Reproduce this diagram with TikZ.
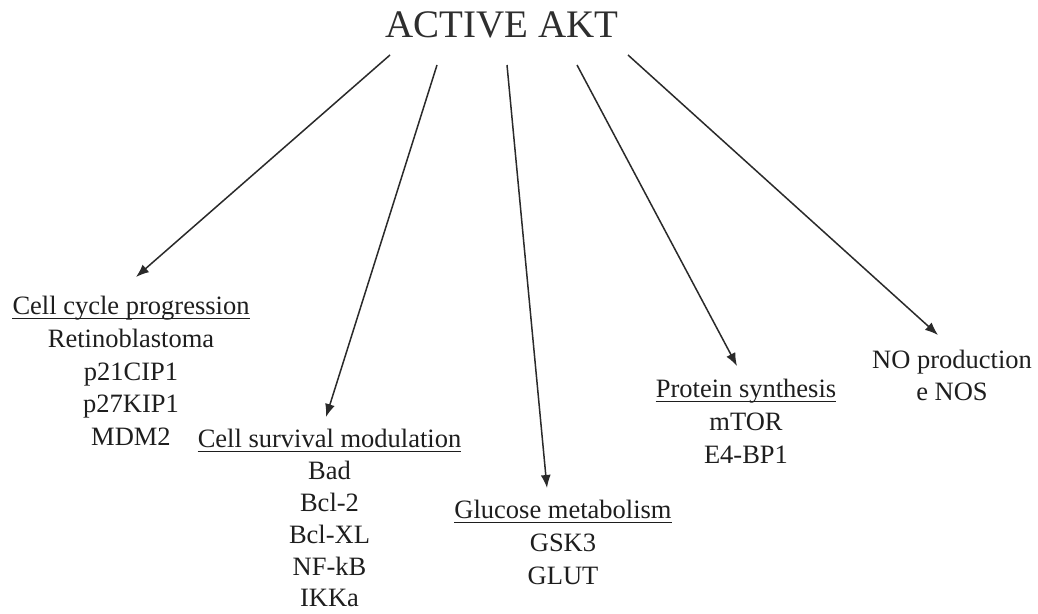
\documentclass[tikz,border=0pt]{standalone}
\usepackage{fontspec}
\setmainfont{Liberation Serif}
\usetikzlibrary{arrows.meta}
\definecolor{ink}{HTML}{1E1E1E}
\definecolor{lineink}{HTML}{2A2A2A}
\definecolor{titleink}{HTML}{2E2E2E}
\begin{document}
\begin{tikzpicture}[x=1pt,y=-1pt,
  txt/.style={anchor=base, inner sep=0pt, font=\fontsize{26.5}{32}\selectfont, text=ink},
  titlestyle/.style={anchor=base, inner sep=0pt, font=\fontsize{39}{46}\selectfont, text=titleink},
  arr/.style={draw=lineink, line width=1.5pt, -{Latex[length=13pt,width=10pt]}},
  uline/.style={draw=ink, line width=1.3pt}]
\useasboundingbox[fill=white] (0,0) rectangle (1038,613);

% title
\node[titlestyle] (akt) at (502,37) {ACTIVE AKT};

% block 1
\node[txt] (h1) at (131,314) {Cell cycle progression};
\node[txt] (b1a) at (131,347) {Retinoblastoma};
\node[txt] (b1b) at (131,380) {p21CIP1};
\node[txt] (b1c) at (131,412) {p27KIP1};
\node[txt] (b1d) at (131,445) {MDM2};

% block 2
\node[txt] (h2) at (329.5,447) {Cell survival modulation};
\node[txt] (b2a) at (329.5,479) {Bad};
\node[txt] (b2b) at (329.5,511) {Bcl-2};
\node[txt] (b2c) at (329.5,543) {Bcl-XL};
\node[txt] (b2d) at (329.5,575) {NF-kB};
\node[txt] (b2e) at (329.5,606) {IKKa};

% block 3
\node[txt] (h3) at (563,518) {Glucose metabolism};
\node[txt] (b3a) at (563,551) {GSK3};
\node[txt] (b3b) at (563,584) {GLUT};

% block 4
\node[txt] (h4) at (746,397) {Protein synthesis};
\node[txt] (b4a) at (746,430) {mTOR};
\node[txt] (b4b) at (746,463) {E4-BP1};

% block 5
\node[txt] (h5) at (952,368) {NO production};
\node[txt] (b5a) at (952,400) {e NOS};

% underlines
\foreach \h in {h1,h2,h3,h4}
  \draw[uline] ([yshift=-4.5pt]\h.base west) -- ([yshift=-4.5pt]\h.base east);

% arrow ends
\coordinate (s1) at (390,55);  \coordinate (e1) at (136,277);
\coordinate (s2) at (437,65);  \coordinate (e2) at (326,417);
\coordinate (s3) at (507,65);  \coordinate (e3) at (547,488);
\coordinate (s4) at (577,65);  \coordinate (e4) at (737,366);
\coordinate (s5) at (628,55);  \coordinate (e5) at (938,335);

\draw[arr] (s1) -- (e1);
\draw[arr] (s2) -- (e2);
\draw[arr] (s3) -- (e3);
\draw[arr] (s4) -- (e4);
\draw[arr] (s5) -- (e5);
\end{tikzpicture}
\end{document}
